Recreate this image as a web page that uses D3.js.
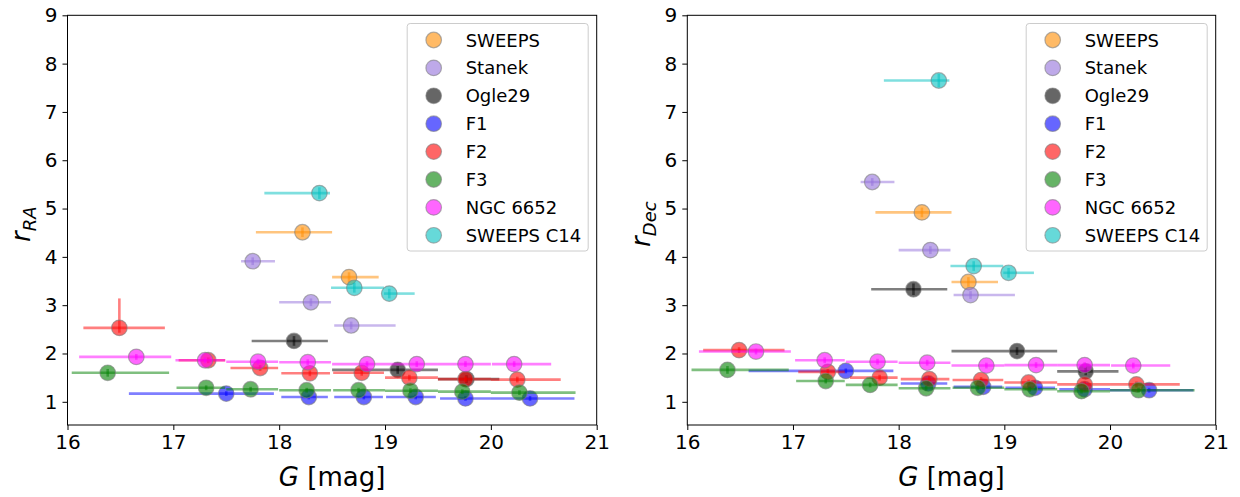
<!DOCTYPE html>
<html>
<head>
<meta charset="utf-8">
<script src="https://cdn.jsdelivr.net/npm/d3@7"></script>
<style>
  body { margin: 0; background: #fff; }
  svg { display: block; font-family: "DejaVu Sans", sans-serif; }
</style>
</head>
<body>
<svg id="chart" width="1240" height="497"></svg>
<script>
// Series (drawn in this order, later ones on top)
const seriesNames = ["SWEEPS", "Stanek", "Ogle29", "F1", "F2", "F3", "NGC 6652", "SWEEPS C14"];
const seriesColors = ["#ff8c00", "#9370db", "#000000", "#0000ff", "#ff0000", "#008000", "#ff00ff", "#00bfbf"];

// G magnitude of each bin (mean) and the bin edges used as horizontal error bars
const gMag = [
  [18.22, 18.66],
  [17.75, 18.30, 18.68],
  [18.14, 19.12, 19.77],
  [17.50, 18.28, 18.80, 19.29, 19.76, 20.37],
  [16.49, 17.33, 17.82, 18.29, 18.78, 19.23, 19.76, 20.25],
  [16.38, 17.31, 17.73, 18.26, 18.75, 19.24, 19.73, 20.27],
  [16.65, 17.30, 17.80, 18.27, 18.83, 19.30, 19.76, 20.22],
  [18.38, 18.71, 19.04]
];
const gLow = [
  [17.78, 18.50],
  [17.64, 18.00, 18.52],
  [17.74, 18.50, 19.50],
  [16.58, 18.02, 18.52, 19.01, 19.52, 20.00],
  [16.15, 17.05, 17.54, 18.02, 18.51, 19.00, 19.50, 20.00],
  [16.04, 17.03, 17.50, 18.00, 18.51, 19.00, 19.50, 20.00],
  [16.11, 17.02, 17.50, 18.00, 18.50, 19.00, 19.50, 20.01],
  [17.86, 18.49, 18.99]
];
const gHigh = [
  [18.50, 18.94],
  [17.96, 18.49, 19.10],
  [18.46, 19.50, 20.08],
  [17.95, 18.46, 18.98, 19.48, 20.00, 20.79],
  [16.92, 17.49, 17.99, 18.48, 18.99, 19.50, 20.00, 20.66],
  [16.96, 17.49, 17.99, 18.49, 19.00, 19.50, 20.00, 20.80],
  [16.98, 17.49, 17.99, 18.49, 19.00, 19.50, 20.00, 20.57],
  [18.48, 18.99, 19.28]
];

// Ratios in right ascension and declination
const rRA = [
  [4.51, 3.58],
  [3.91, 3.06, 2.58],
  [2.26, 1.66, 1.47],
  [1.17, 1.10, 1.10, 1.10, 1.07, 1.07],
  [2.53, 1.86, 1.70, 1.59, 1.60, 1.50, 1.47, 1.46],
  [1.60, 1.29, 1.26, 1.24, 1.24, 1.23, 1.21, 1.19],
  [1.93, 1.86, 1.83, 1.82, 1.78, 1.78, 1.78, 1.78],
  [5.32, 3.36, 3.24]
];
const rDec = [
  [4.92, 3.48],
  [5.55, 4.14, 3.21],
  [3.33, 2.05, 1.63],
  [1.64, 1.38, 1.31, 1.29, 1.26, 1.24],
  [2.07, 1.62, 1.50, 1.47, 1.45, 1.40, 1.36, 1.36],
  [1.66, 1.43, 1.35, 1.28, 1.29, 1.26, 1.22, 1.24],
  [2.04, 1.86, 1.83, 1.81, 1.75, 1.76, 1.76, 1.75],
  [7.65, 3.81, 3.67]
];
// Vertical uncertainties as [below, above]
const rRAerr = [
  [[0.10, 0.10], [0.10, 0.10]],
  [[0.08, 0.08], [0.08, 0.08], [0.08, 0.08]],
  [[0.10, 0.10], [0.08, 0.08], [0.08, 0.08]],
  [[0.05, 0.05], [0.05, 0.05], [0.05, 0.05], [0.05, 0.05], [0.05, 0.05], [0.05, 0.05]],
  [[0.10, 0.61], [0.06, 0.06], [0.06, 0.06], [0.06, 0.06], [0.06, 0.06], [0.06, 0.06], [0.06, 0.06], [0.06, 0.06]],
  [[0.08, 0.08], [0.05, 0.05], [0.05, 0.05], [0.05, 0.05], [0.05, 0.05], [0.05, 0.05], [0.05, 0.05], [0.05, 0.05]],
  [[0.06, 0.06], [0.06, 0.06], [0.06, 0.06], [0.06, 0.06], [0.06, 0.06], [0.06, 0.06], [0.06, 0.06], [0.06, 0.06]],
  [[0.12, 0.12], [0.10, 0.10], [0.10, 0.10]]
];
const rDecErr = [
  [[0.10, 0.10], [0.10, 0.10]],
  [[0.08, 0.08], [0.08, 0.08], [0.08, 0.08]],
  [[0.12, 0.12], [0.08, 0.08], [0.08, 0.08]],
  [[0.05, 0.05], [0.05, 0.05], [0.05, 0.05], [0.05, 0.05], [0.05, 0.05], [0.05, 0.05]],
  [[0.06, 0.06], [0.06, 0.06], [0.06, 0.06], [0.06, 0.06], [0.06, 0.06], [0.06, 0.06], [0.06, 0.06], [0.06, 0.06]],
  [[0.08, 0.08], [0.05, 0.05], [0.05, 0.05], [0.05, 0.05], [0.05, 0.05], [0.05, 0.05], [0.05, 0.05], [0.05, 0.05]],
  [[0.06, 0.06], [0.06, 0.06], [0.06, 0.06], [0.06, 0.06], [0.06, 0.06], [0.06, 0.06], [0.06, 0.06], [0.06, 0.06]],
  [[0.14, 0.14], [0.10, 0.10], [0.10, 0.10]]
];

const xTicks = [16, 17, 18, 19, 20, 21];
const yTicks = [1, 2, 3, 4, 5, 6, 7, 8, 9];
const xDomain = [16, 21];
const yDomain = [0.52, 9];

const svg = d3.select("#chart");

const panels = [
  { left: 67.5, right: 596.7, values: rRA, errs: rRAerr, sub: "RA", labelX: 30 },
  { left: 687.3, right: 1215.7, values: rDec, errs: rDecErr, sub: "Dec", labelX: 650 }
];
const plotTop = 15.3, plotBottom = 425;

panels.forEach(p => {
  const x = d3.scaleLinear().domain(xDomain).range([p.left, p.right]);
  const y = d3.scaleLinear().domain(yDomain).range([plotBottom, plotTop]);
  const g = svg.append("g");

  // data layer
  const plot = g.append("g");
  seriesNames.forEach((name, si) => {
    const color = seriesColors[si];
    const sg = plot.append("g");
    gMag[si].forEach((gm, i) => {
      const v = p.values[si][i];
      const e = p.errs[si][i];
      sg.append("line")
        .attr("x1", x(gLow[si][i])).attr("x2", x(gHigh[si][i]))
        .attr("y1", y(v)).attr("y2", y(v))
        .attr("stroke", color).attr("stroke-opacity", 0.5).attr("stroke-width", 2.6);
      sg.append("line")
        .attr("x1", x(gm)).attr("x2", x(gm))
        .attr("y1", y(v - e[0])).attr("y2", y(v + e[1]))
        .attr("stroke", color).attr("stroke-opacity", 0.5).attr("stroke-width", 2.6);
    });
    gMag[si].forEach((gm, i) => {
      sg.append("circle")
        .attr("cx", x(gm)).attr("cy", y(p.values[si][i])).attr("r", 7.8)
        .attr("fill", color).attr("fill-opacity", 0.6)
        .attr("stroke", "#808080").attr("stroke-opacity", 0.6).attr("stroke-width", 1.2);
    });
  });

  // frame
  g.append("rect")
    .attr("x", p.left).attr("y", plotTop)
    .attr("width", p.right - p.left).attr("height", plotBottom - plotTop)
    .attr("fill", "none").attr("stroke", "#000").attr("stroke-width", 1);

  // axes
  const xAxis = d3.axisBottom(x).tickValues(xTicks).tickFormat(d3.format("d")).tickSize(5).tickPadding(5);
  const yAxis = d3.axisLeft(y).tickValues(yTicks).tickFormat(d3.format("d")).tickSize(5).tickPadding(5);
  const gx = g.append("g").attr("transform", `translate(0,${plotBottom})`).call(xAxis);
  const gy = g.append("g").attr("transform", `translate(${p.left},0)`).call(yAxis);
  [gx, gy].forEach(a => {
    a.select(".domain").remove();
    a.selectAll("text").attr("font-size", 20).attr("fill", "#000").attr("font-family", "DejaVu Sans");
    a.selectAll("line").attr("stroke", "#000");
  });

  // axis labels
  const xl = g.append("text")
    .attr("x", (p.left + p.right) / 2).attr("y", 486)
    .attr("text-anchor", "middle").attr("font-size", 26).attr("fill", "#000");
  xl.append("tspan").attr("font-style", "italic").text("G");
  xl.append("tspan").text(" [mag]");

  const yl = g.append("text")
    .attr("transform", `translate(${p.labelX},${(plotTop + plotBottom) / 2 + 4}) rotate(-90)`)
    .attr("text-anchor", "middle").attr("font-size", 26).attr("fill", "#000");
  yl.append("tspan").attr("font-style", "italic").text("r");
  yl.append("tspan").attr("font-style", "italic").attr("font-size", 18).attr("dy", 6).text(p.sub);

  // legend
  const lg = g.append("g");
  const lgRight = p.right - 8.5, lgLeft = lgRight - 181;
  lg.append("rect")
    .attr("x", lgLeft).attr("y", 23.5).attr("width", 181).attr("height", 227.5)
    .attr("rx", 3).attr("fill", "#fff").attr("fill-opacity", 0.8)
    .attr("stroke", "#cccccc").attr("stroke-width", 1);
  seriesNames.forEach((name, si) => {
    const ry = 40 + si * 27.9;
    lg.append("circle")
      .attr("cx", lgLeft + 26.5).attr("cy", ry).attr("r", 7.8)
      .attr("fill", seriesColors[si]).attr("fill-opacity", 0.6)
      .attr("stroke", "#808080").attr("stroke-opacity", 0.6).attr("stroke-width", 1.2);
    lg.append("text")
      .attr("x", lgLeft + 58.5).attr("y", ry + 6.5)
      .attr("font-size", 18).attr("fill", "#000").text(name);
  });
});
</script>
</body>
</html>
